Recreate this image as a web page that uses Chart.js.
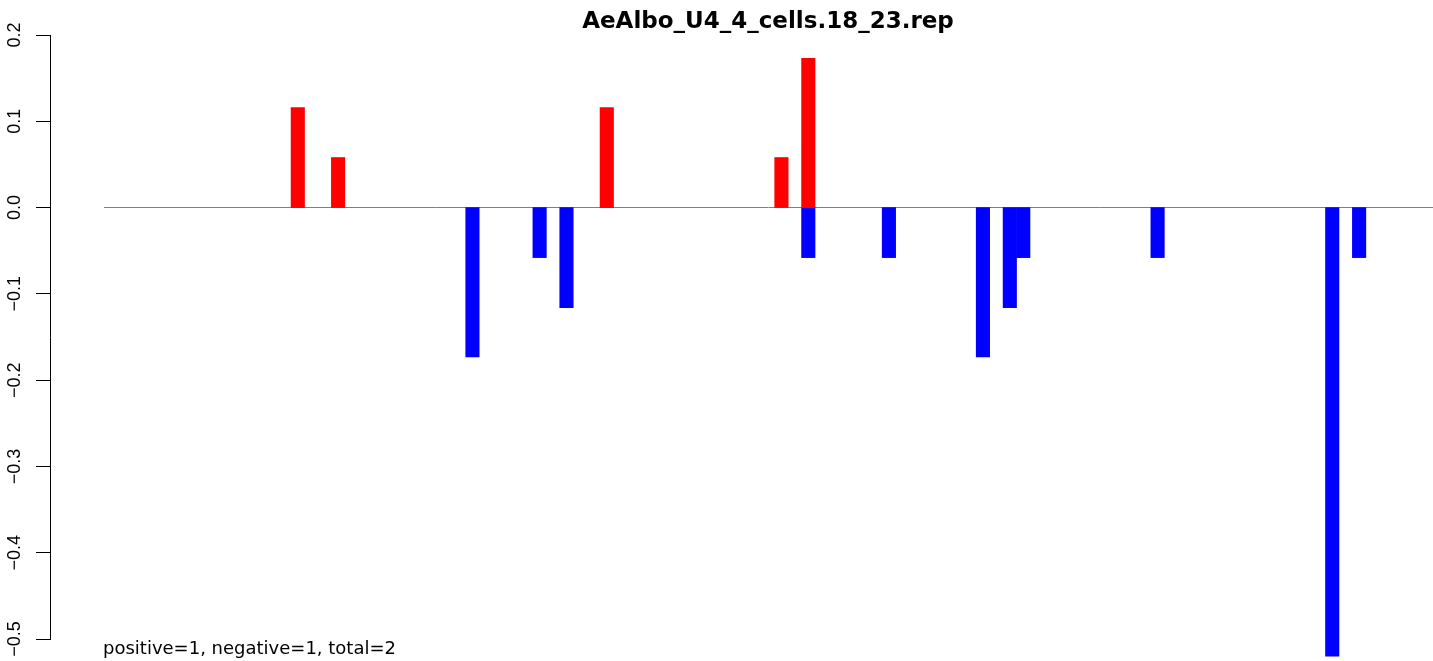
<!DOCTYPE html>
<html>
<head>
<meta charset="utf-8">
<script src="https://cdn.jsdelivr.net/npm/chart.js@4.4.0/dist/chart.umd.min.js"></script>
<style>
  html, body { margin: 0; padding: 0; background: #fff; }
  #wrap { width: 1433px; height: 661px; position: relative; }
</style>
</head>
<body>
<div id="wrap"><canvas id="chart"></canvas></div>
<script>
// slot positions along the x axis (1-based) and bar heights
const slotCount = 99;
const categories = Array.from({ length: slotCount }, (_, i) => String(i + 1));

const positiveSlots = [15, 18, 38, 51, 53];
const positiveValues = [0.116, 0.058, 0.116, 0.058, 0.173];

const negativeSlots = [28, 33, 35, 53, 59, 66, 68, 69, 79, 92, 94];
const negativeValues = [-0.173, -0.058, -0.116, -0.058, -0.058, -0.173, -0.116, -0.058, -0.058, -0.52, -0.058];

const yTickLabels = ["\u22120.5", "\u22120.4", "\u22120.3", "\u22120.2", "\u22120.1", "0.0", "0.1", "0.2"];

const titleText = "AeAlbo_U4_4_cells.18_23.rep";
const footText = "positive=1, negative=1, total=2";

const toPoints = (slots, values) => slots.map((s, i) => ({ x: String(s), y: values[i] }));

const FONT = "'Liberation Sans', Arial, Helvetica, sans-serif";
const WIDE = "'DejaVu Sans', 'Liberation Sans', sans-serif";

new Chart(document.getElementById("chart"), {
  type: "bar",
  data: {
    labels: categories,
    datasets: [
      {
        label: "positive",
        data: toPoints(positiveSlots, positiveValues),
        backgroundColor: "#ff0000",
        grouped: false,
        barPercentage: 1,
        categoryPercentage: 1,
        clip: false,
      },
      {
        label: "negative",
        data: toPoints(negativeSlots, negativeValues),
        backgroundColor: "#0000ff",
        grouped: false,
        barPercentage: 1,
        categoryPercentage: 1,
        clip: false,
      },
    ],
  },
  options: {
    responsive: true,
    maintainAspectRatio: false,
    devicePixelRatio: 1,
    animation: false,
    layout: { padding: 0 },
    plugins: {
      legend: { display: false },
      tooltip: { enabled: false },
      title: {
        display: true,
        text: titleText,
        fullSize: false,
        color: "#000",
        font: { family: WIDE, size: 23, weight: "bold", lineHeight: 1 },
        padding: { top: 11, bottom: 1 },
      },
      subtitle: {
        display: true,
        text: footText,
        position: "bottom",
        align: "start",
        fullSize: false,
        color: "#000",
        font: { family: WIDE, size: 18, lineHeight: 1 },
        padding: { top: 1, bottom: 3 },
      },
    },
    scales: {
      x: {
        type: "category",
        display: false,
        offset: true,
      },
      y: {
        position: "left",
        min: -0.5,
        max: 0.2,
        weight: 10,
        z: 1,
        afterFit: (s) => { s.width = 50; },
        ticks: {
          stepSize: 0.1,
          minRotation: 90,
          maxRotation: 90,
          crossAlign: "center",
          padding: 3,
          color: "#000",
          font: { family: FONT, size: 18 },
          callback: (v, i) => yTickLabels[i],
        },
        grid: {
          drawOnChartArea: true,
          tickLength: 14,
          tickColor: "#000",
          tickWidth: 1,
          color: (ctx) => (ctx.tick && Math.abs(ctx.tick.value) < 1e-9 ? "#808080" : "rgba(0,0,0,0)"),
          lineWidth: 1,
        },
        border: { display: true, color: "#000", width: 1 },
      },
      gap: {
        type: "linear",
        position: "left",
        weight: 0,
        afterFit: (s) => { s.width = 53; },
        ticks: { display: false },
        grid: { display: false },
        border: { display: false },
      },
    },
  },
});
</script>
</body>
</html>
